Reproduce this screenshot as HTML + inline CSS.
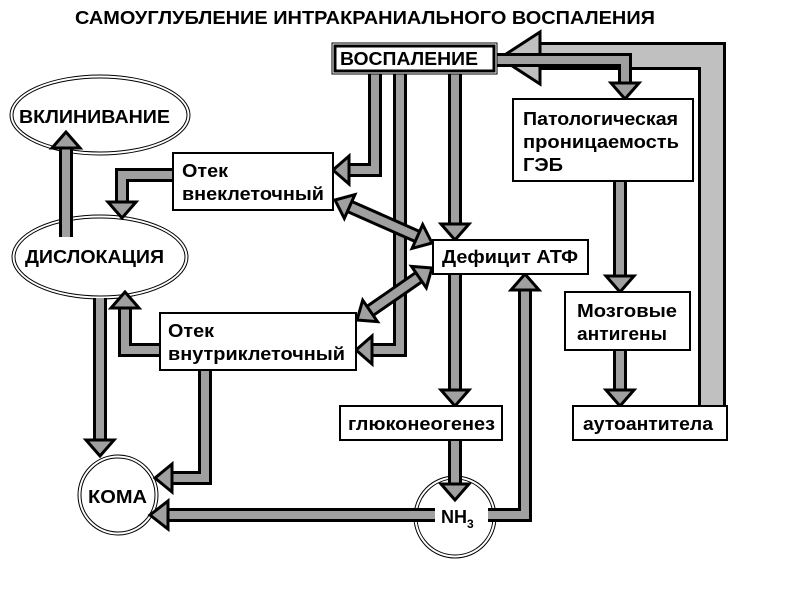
<!DOCTYPE html>
<html><head><meta charset="utf-8"><style>
html,body{margin:0;padding:0;background:#fff;}
svg{display:block}
text{font-family:"Liberation Sans",sans-serif;font-weight:bold;fill:#000}
.sb{fill:none;stroke:#000;stroke-width:14;stroke-linejoin:miter}
.sg{fill:none;stroke:#a0a0a0;stroke-width:8;stroke-linejoin:miter}
.h{fill:#a0a0a0;stroke:#000;stroke-width:3;stroke-linejoin:miter}
.bx{fill:#fff;stroke:#000;stroke-width:2}
</style></head><body>
<svg width="800" height="600" viewBox="0 0 800 600">
<text x="75" y="24" font-size="18" textLength="580" lengthAdjust="spacingAndGlyphs">САМОУГЛУБЛЕНИЕ ИНТРАКРАНИАЛЬНОГО ВОСПАЛЕНИЯ</text>

<path d="M712 406 V56 H540" fill="none" stroke="#000" stroke-width="28"/>
<path d="M712 408 V56 H538" fill="none" stroke="#c0c0c0" stroke-width="22"/>
<polygon points="500,58 540,32 540,84" fill="#c0c0c0" stroke="#000" stroke-width="3"/>

<ellipse cx="100" cy="115" rx="90" ry="40" fill="#fff" stroke="#000" stroke-width="1"/>
<ellipse cx="100" cy="115" rx="87" ry="37" fill="none" stroke="#000" stroke-width="1"/>
<text x="19" y="123" font-size="18" textLength="151" lengthAdjust="spacingAndGlyphs">ВКЛИНИВАНИЕ</text>
<ellipse cx="100" cy="257" rx="88" ry="42" fill="#fff" stroke="#000" stroke-width="1"/>
<ellipse cx="100" cy="257" rx="85" ry="39" fill="none" stroke="#000" stroke-width="1"/>
<text x="25" y="263" font-size="18" textLength="139" lengthAdjust="spacingAndGlyphs">ДИСЛОКАЦИЯ</text>
<circle cx="118" cy="495" r="40" fill="#fff" stroke="#000" stroke-width="1"/>
<circle cx="118" cy="495" r="37" fill="none" stroke="#000" stroke-width="1"/>
<text x="88" y="503" font-size="18" textLength="59" lengthAdjust="spacingAndGlyphs">КОМА</text>
<circle cx="455" cy="517" r="41" fill="#fff" stroke="#000" stroke-width="1"/>
<circle cx="455" cy="517" r="38" fill="none" stroke="#000" stroke-width="1"/>

<g>
<path class="sb" d="M375 74 V170 H349"/><path class="sg" d="M375 74 V170 H349"/><polygon class="h" points="333,170 349,156 349,184"/>
<path class="sb" d="M400 74 V350 H372"/><path class="sg" d="M400 74 V350 H372"/><polygon class="h" points="356,350 372,336 372,364"/>
<path class="sb" d="M455 74 V224"/><path class="sg" d="M455 74 V224"/><polygon class="h" points="455,240 441,224 469,224"/>
<path class="sb" d="M497 60 H625 V83"/><path class="sg" d="M497 60 H625 V83"/><polygon class="h" points="625,99 611,83 639,83"/>
<path class="sb" d="M620 181 V276"/><path class="sg" d="M620 181 V276"/><polygon class="h" points="620,292 606,276 634,276"/>
<path class="sb" d="M620 350 V390"/><path class="sg" d="M620 350 V390"/><polygon class="h" points="620,406 606,390 634,390"/>
<path class="sb" d="M455 274 V390"/><path class="sg" d="M455 274 V390"/><polygon class="h" points="455,406 441,390 469,390"/>
<path class="sb" d="M455 440 V484"/><path class="sg" d="M455 440 V484"/><polygon class="h" points="455,500 441,484 469,484"/>
<path class="sb" d="M488 515 H525 V290"/><path class="sg" d="M488 515 H525 V290"/><polygon class="h" points="525,274 511,290 539,290"/>
<path class="sb" d="M435 515 H168"/><path class="sg" d="M435 515 H168"/><polygon class="h" points="150,515 168,501 168,529"/>
<path class="sb" d="M205 370 V478 H172"/><path class="sg" d="M205 370 V478 H172"/><polygon class="h" points="155,478 172,464 172,492"/>
<path class="sb" d="M100 298 V440"/><path class="sg" d="M100 298 V440"/><polygon class="h" points="100,456 86,440 114,440"/>
<path class="sb" d="M160 350 H125 V308"/><path class="sg" d="M160 350 H125 V308"/><polygon class="h" points="125,292 111,308 139,308"/>
<path class="sb" d="M173 175 H122 V202"/><path class="sg" d="M173 175 H122 V202"/><polygon class="h" points="122,218 108,202 136,202"/>
<path class="sb" d="M66 237 V148"/><path class="sg" d="M66 237 V148"/><polygon class="h" points="66,132 52,148 80,148"/>
<path class="sb" d="M349.6 206.5 L417.4 236.5"/><path class="sg" d="M349.6 206.5 L417.4 236.5"/>
<polygon class="h" points="335,200 344.3,218.4 354.9,194.6"/><polygon class="h" points="432,243 412.1,248.4 422.7,224.6"/>
<path class="sb" d="M370.1 310.9 L418.9 277.1"/><path class="sg" d="M370.1 310.9 L418.9 277.1"/>
<polygon class="h" points="357,320 377.5,321.6 362.7,300.2"/><polygon class="h" points="432,268 426.3,287.8 411.5,266.4"/>
</g>

<rect x="332" y="43" width="165" height="31" fill="#fff" stroke="#000" stroke-width="1"/>
<rect x="335" y="46" width="159" height="25" fill="none" stroke="#000" stroke-width="3"/>
<text x="340" y="65" font-size="18" textLength="138" lengthAdjust="spacingAndGlyphs">ВОСПАЛЕНИЕ</text>

<rect class="bx" x="513" y="99" width="180" height="82"/>
<text x="523" y="125" font-size="18" textLength="155" lengthAdjust="spacingAndGlyphs">Патологическая</text>
<text x="523" y="148" font-size="18" textLength="156" lengthAdjust="spacingAndGlyphs">проницаемость</text>
<text x="523" y="171" font-size="18" textLength="40" lengthAdjust="spacingAndGlyphs">ГЭБ</text>

<rect class="bx" x="173" y="153" width="160" height="57"/>
<text x="182" y="177" font-size="18" textLength="46" lengthAdjust="spacingAndGlyphs">Отек</text>
<text x="182" y="200" font-size="18" textLength="142" lengthAdjust="spacingAndGlyphs">внеклеточный</text>

<rect class="bx" x="433" y="240" width="155" height="34"/>
<text x="442" y="263" font-size="18" textLength="136" lengthAdjust="spacingAndGlyphs">Дефицит АТФ</text>

<rect class="bx" x="160" y="313" width="196" height="57"/>
<text x="168" y="337" font-size="18" textLength="46" lengthAdjust="spacingAndGlyphs">Отек</text>
<text x="168" y="360" font-size="18" textLength="177" lengthAdjust="spacingAndGlyphs">внутриклеточный</text>

<rect class="bx" x="565" y="292" width="125" height="58"/>
<text x="577" y="317" font-size="18" textLength="100" lengthAdjust="spacingAndGlyphs">Мозговые</text>
<text x="577" y="340" font-size="18" textLength="90" lengthAdjust="spacingAndGlyphs">антигены</text>

<rect class="bx" x="340" y="406" width="162" height="34"/>
<text x="348" y="430" font-size="18" textLength="147" lengthAdjust="spacingAndGlyphs">глюконеогенез</text>

<rect class="bx" x="573" y="406" width="154" height="34"/>
<text x="583" y="430" font-size="18" textLength="130" lengthAdjust="spacingAndGlyphs">аутоантитела</text>

<text x="441" y="523" font-size="18">NH<tspan font-size="12" dy="5">3</tspan></text>
</svg>
</body></html>
